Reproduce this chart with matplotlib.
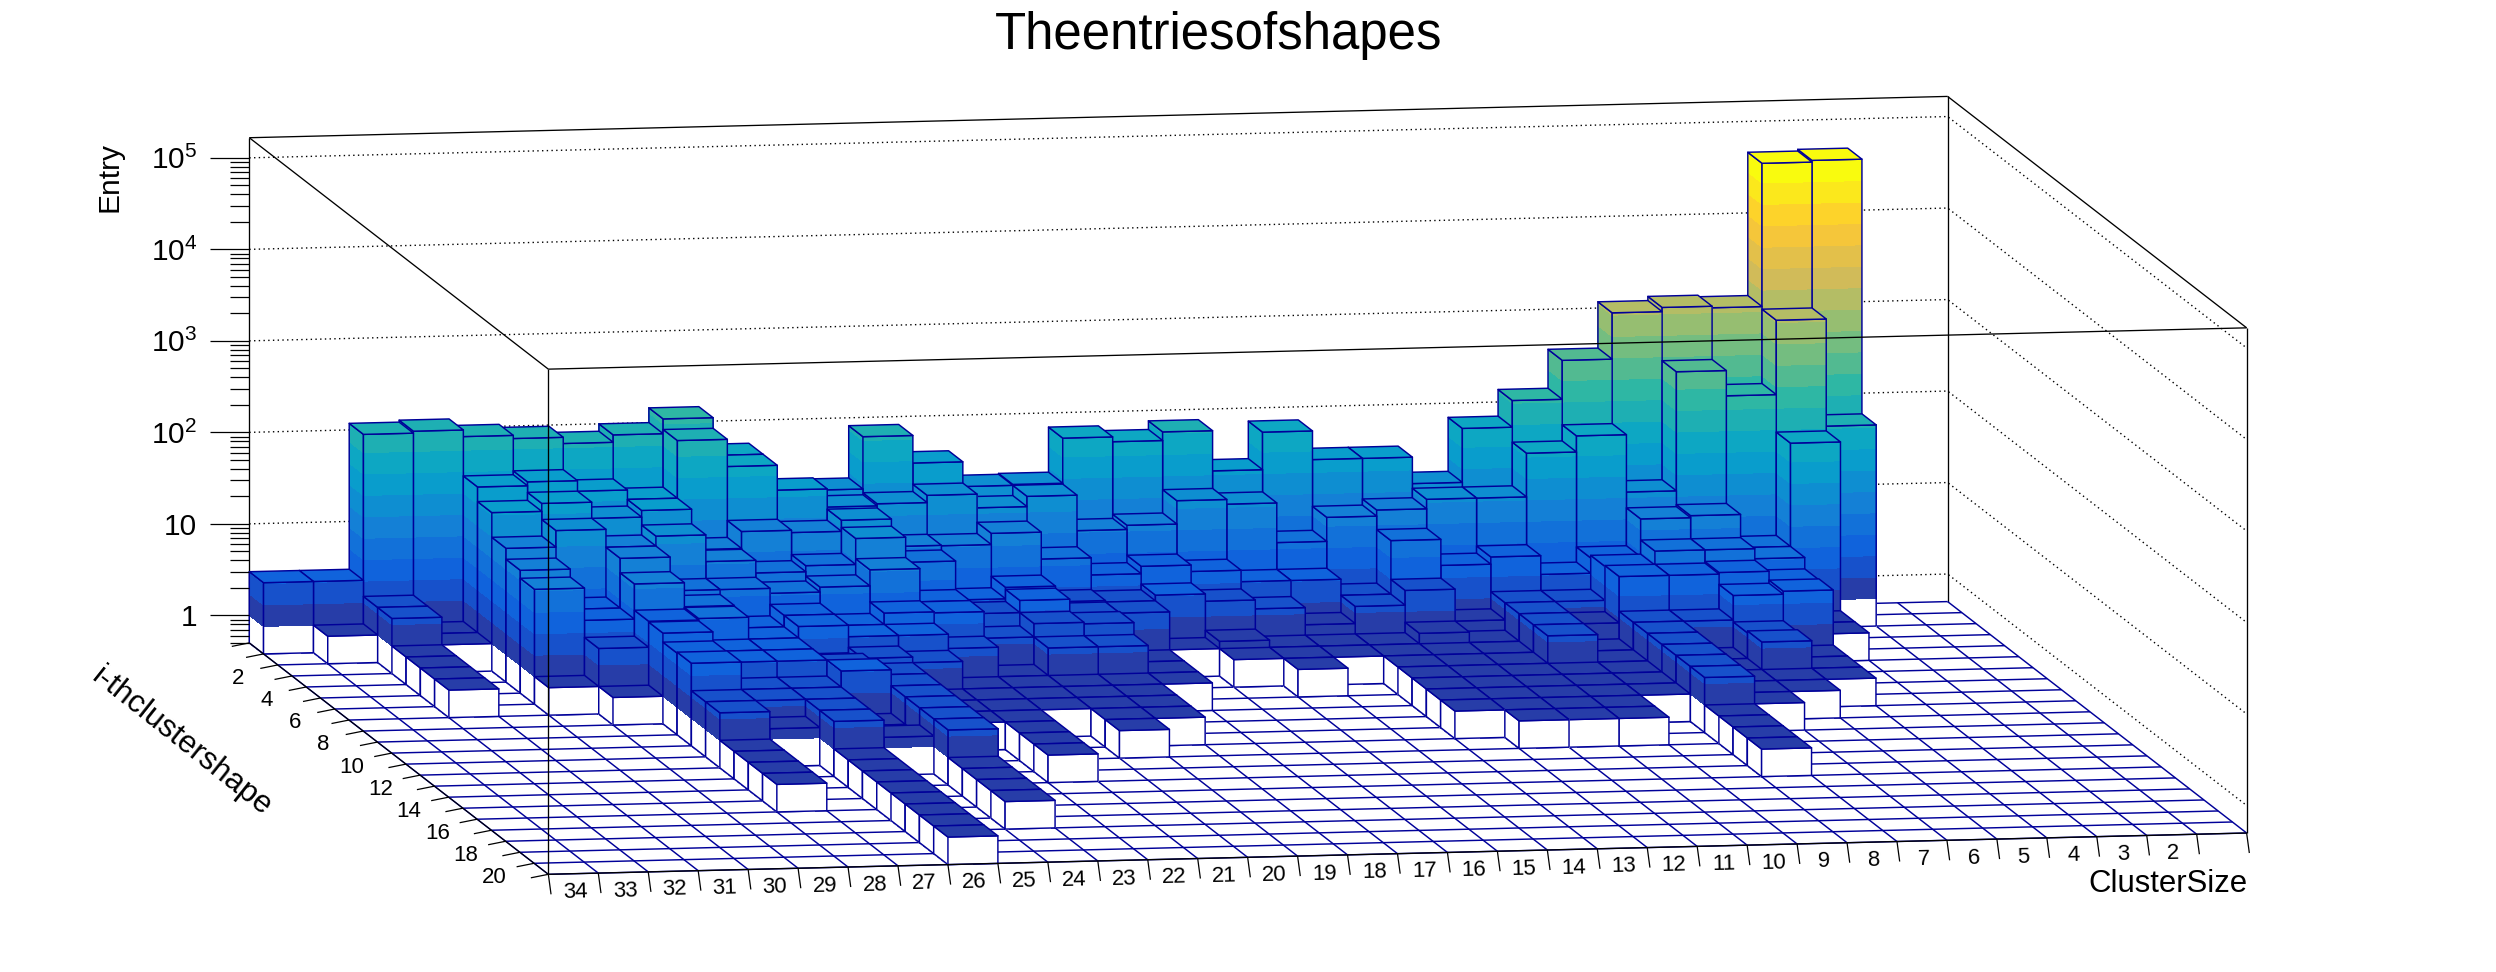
"""
Lego plot of the shape entries: ClusterSize against i-th cluster shape.
Oblique projection on a plain 2D axes, faces painted from back to front.
"""

import numpy as np
import matplotlib
matplotlib.use('Agg')
import matplotlib.pyplot as plt
from matplotlib.collections import PolyCollection
from matplotlib.colors import LinearSegmentedColormap

plt.rcParams['font.family'] = ['Liberation Sans', 'DejaVu Sans']
plt.rcParams['mathtext.fontset'] = 'custom'
plt.rcParams['mathtext.rm'] = 'Liberation Sans'
plt.rcParams['mathtext.default'] = 'regular'

# ─── DATA ─────────────────────────────────────────────────────────────────────
cluster_sizes = list(range(34, 0, -1))
shape_labels = list(range(2, 21, 2))
n_shapes = 21

# entries per cluster size, listed from shape 0 upwards; missing shapes are empty
size_34 = [3]
size_33 = [3, 1]
size_32 = [118, 2, 2, 1, 1, 1, 1]
size_31 = [124, 1, 1]
size_30 = [105, 39, 27, 14.5, 11, 9, 1]
size_29 = [97, 43, 33, 22, 4, 4, 2.6, 1]
size_28 = [83, 33, 22, 14, 14, 9.7, 5, 4.9, 3.9, 4, 2, 2, 1, 1, 1, 1]
size_27 = [100, 26, 26, 18, 6, 5.3, 5.2, 3, 3, 2, 2, 1.3]
size_26 = [145, 111, 9.4, 9.2, 6, 3, 3, 3, 3, 2, 2, 2, 2, 1, 1, 1, 1, 1, 1, 1, 1]
size_25 = [56, 56, 14.4, 6.7, 5.3, 4, 4, 2, 2.6, 3, 1, 1, 1.3]
size_24 = [20, 30, 13.6, 7.8, 6, 3, 3, 2.3, 2, 2, 2, 2, 2, 2, 1, 1, 1, 1]
size_23 = [22, 19, 18, 15, 9, 4, 3, 2, 1, 1, 1]
size_22 = [82, 20, 9, 8, 3.9, 3.9, 2.1, 1, 1, 1, 1, 1, 1, 1]
size_21 = [41, 24, 8.9, 3, 2.8, 2, 1, 1, 1, 1]
size_20 = [22, 17, 11.8, 4, 3.8, 2.8, 2, 1, 1, 1, 1, 1]
size_19 = [22.5, 22, 6, 2.7, 2.6, 2.7, 2, 1, 1, 1, 1]
size_18 = [70, 9, 3.9, 2.6, 2.6, 1, 1, 1]
size_17 = [62, 10, 4.7, 3, 1]
size_16 = [77, 18, 4, 2.5, 1.2, 1]
size_15 = [28, 16, 3, 2, 1, 1, 1]
size_14 = [72, 5.9, 3, 1.3, 1, 1]
size_13 = [35, 10.8, 2, 2, 1, 1, 1, 1, 1, 1, 1]
size_12 = [35, 12.6, 7.7, 2.9, 1.3, 1, 1, 1, 1, 1, 1, 1]
size_11 = [18, 16, 4, 1.3, 1, 1, 1, 1, 1, 1, 1, 1]
size_10 = [70, 16, 4.8, 2, 2, 2, 2, 1, 1, 1, 1, 1]
size_9 = [137, 48, 3, 2, 1.5, 1, 1, 1, 1, 1]
size_8 = [365, 72, 4.4, 4.7, 4.8, 2, 2, 2, 2, 2, 2, 1, 1, 1, 1]
size_7 = [1170, 17, 11.4, 6.7, 4.8, 2, 1, 1, 1, 1, 1]
size_6 = [1300, 340, 12, 6.7, 5, 3.7, 1.9, 2, 1, 1]
size_5 = [1250, 180, 5.2, 5.2, 3.9, 4, 1, 1, 1]
size_4 = [46000, 1170, 70, 1, 1]
size_3 = [48000, 79]
size_2 = []
size_1 = []

entries = [size_34, size_33, size_32, size_31, size_30, size_29, size_28, size_27,
           size_26, size_25, size_24, size_23, size_22, size_21, size_20, size_19,
           size_18, size_17, size_16, size_15, size_14, size_13, size_12, size_11,
           size_10, size_9, size_8, size_7, size_6, size_5, size_4, size_3,
           size_2, size_1]

z_decades = [0, 1, 2, 3, 4, 5]
z_decade_labels = ['1', '10', '$10^{2}$', '$10^{3}$', '$10^{4}$', '$10^{5}$']

# ─── GEOMETRY ─────────────────────────────────────────────────────────────────
W, H = 2496, 972
X0, Y0 = 249.3, 642.9            # back left floor corner, pixels
DUX, DUY = 49.95, -1.215         # one ClusterSize bin along the front edge
DVX, DVY = 14.24, 11.02          # one shape bin towards the viewer
DECADE = 91.5
LOG_ZMIN, LOG_ZMAX = np.log10(0.5), 5.22
N_LEVELS = 20

NAVY = (0.0, 0.0, 0.6, 1.0)
NONE = (0.0, 0.0, 0.0, 0.0)
WHITE = (1.0, 1.0, 1.0, 1.0)

# ROOT kBird palette
bird_r = [0.2082, 0.0592, 0.0780, 0.0232, 0.1802, 0.5301, 0.8186, 0.9956, 0.9764]
bird_g = [0.1664, 0.3599, 0.5041, 0.6419, 0.7178, 0.7492, 0.7328, 0.7862, 0.9832]
bird_b = [0.5293, 0.8684, 0.8385, 0.7914, 0.6425, 0.4662, 0.3499, 0.1968, 0.0539]
bird = LinearSegmentedColormap.from_list('bird', list(zip(bird_r, bird_g, bird_b)), N=255)
level_colors = [bird((i + 0.99) / N_LEVELS) for i in range(N_LEVELS)]


def project(u, v, logz):
    return (X0 + u * DUX + v * DVX,
            Y0 + u * DUY + v * DVY - (logz - LOG_ZMIN) * DECADE)


def level_faces(a, b, logz, step, polys, faces, edges, smooth):
    """Fill the wall between floor points a, b up to logz in palette bands."""
    low = LOG_ZMIN
    bounds = [LOG_ZMIN] + [i * step for i in range(N_LEVELS + 1)]
    for i in range(len(bounds) - 1):
        lo, hi = bounds[i], min(bounds[i + 1], logz)
        if hi <= lo:
            break
        polys.append([project(*a, lo), project(*b, lo), project(*b, hi), project(*a, hi)])
        faces.append(WHITE if i == 0 else level_colors[i - 1])
        edges.append(NONE)
        smooth.append(False)    # no seams between the bands
    polys.append([project(*a, low), project(*b, low), project(*b, logz), project(*a, logz)])
    faces.append(NONE)
    edges.append(NAVY)
    smooth.append(True)


def run():
    fig = plt.figure(figsize=(W / 100, H / 100), dpi=100)
    ax = fig.add_axes([0, 0, 1, 1])
    ax.set_xlim(0, W)
    ax.set_ylim(H, 0)
    ax.axis('off')

    n_sizes = len(cluster_sizes)

    def line(p, q, **kw):
        ax.plot([p[0], q[0]], [p[1], q[1]], solid_capstyle='butt', **kw)

    # ── walls and floor ───────────────────────────────────────────────────────
    for d in z_decades:
        a, b, c = project(0, 0, d), project(n_sizes, 0, d), project(n_sizes, n_shapes, d)
        ax.plot([a[0], b[0], c[0]], [a[1], b[1], c[1]], color='k', lw=1.0,
                ls=(0, (1, 2.4)), zorder=1)

    black = dict(color='k', lw=0.95, zorder=1.5)
    line(project(0, 0, LOG_ZMIN), project(0, 0, LOG_ZMAX), **black)
    line(project(n_sizes, 0, LOG_ZMIN), project(n_sizes, 0, LOG_ZMAX), **black)
    line(project(0, 0, LOG_ZMAX), project(n_sizes, 0, LOG_ZMAX), **black)
    line(project(0, 0, LOG_ZMAX), project(0, n_shapes, LOG_ZMAX), **black)
    line(project(n_sizes, 0, LOG_ZMAX), project(n_sizes, n_shapes, LOG_ZMAX), **black)

    floor = dict(color=NAVY, lw=1.05, zorder=1.6)
    for u in range(n_sizes + 1):
        line(project(u, 0, LOG_ZMIN), project(u, n_shapes, LOG_ZMIN), **floor)
    for v in range(n_shapes + 1):
        line(project(0, v, LOG_ZMIN), project(n_sizes, v, LOG_ZMIN), **floor)

    # ── bars, from the far row to the near row, right to left ─────────────────
    step = np.log10(max(max(c) for c in entries if c)) / N_LEVELS
    polys, faces, edges, smooth = [], [], [], []
    for v in range(1, n_shapes + 1):
        for u in range(n_sizes - 1, -1, -1):
            column = entries[u]
            if v > len(column):
                continue
            logz = np.log10(column[v - 1])
            level_faces((u, v - 1), (u, v), logz, step, polys, faces, edges, smooth)
            level_faces((u, v), (u + 1, v), logz, step, polys, faces, edges, smooth)
            top = int(np.clip(np.floor(logz / step), 0, N_LEVELS - 1))
            polys.append([project(u, v, logz), project(u + 1, v, logz),
                          project(u + 1, v - 1, logz), project(u, v - 1, logz)])
            faces.append(level_colors[top])
            edges.append(NAVY)
            smooth.append(True)

    bars = PolyCollection(polys, facecolors=faces, edgecolors=edges,
                          linewidths=1.05, antialiaseds=smooth, zorder=2)
    ax.add_collection(bars)

    # ── front frame, drawn over the bars ──────────────────────────────────────
    black = dict(color='k', lw=0.95, zorder=3)
    line(project(0, n_shapes, LOG_ZMIN), project(0, n_shapes, LOG_ZMAX), **black)
    line(project(n_sizes, n_shapes, LOG_ZMIN), project(n_sizes, n_shapes, LOG_ZMAX), **black)
    line(project(0, n_shapes, LOG_ZMAX), project(n_sizes, n_shapes, LOG_ZMAX), **black)
    line(project(0, n_shapes, LOG_ZMIN), project(n_sizes, n_shapes, LOG_ZMIN), **black)
    line(project(0, 0, LOG_ZMIN), project(0, n_shapes, LOG_ZMIN), color='k', lw=0.8, zorder=3)

    # ── axes ──────────────────────────────────────────────────────────────────
    tick = dict(color='k', lw=0.9, zorder=3)
    for d, label in zip(z_decades, z_decade_labels):
        x, y = project(0, 0, d)
        line((x, y), (x - 39, y), **tick)
        ax.text(x - 52, y + 3, label, ha='right', va='center', fontsize=21.5, color='k')
    for d in z_decades[:-1] + [-1]:
        for m in range(2, 10):
            logz = d + np.log10(m)
            if LOG_ZMIN <= logz <= LOG_ZMAX:
                x, y = project(0, 0, logz)
                line((x, y), (x - 19, y), **tick)

    for u in range(n_sizes + 1):
        x, y = project(u, n_shapes, LOG_ZMIN)
        line((x, y), (x + 2.7, y + 20), **tick)
    for u, size in enumerate(cluster_sizes[:-1]):
        x, y = project(u + 0.5, n_shapes, LOG_ZMIN)
        ax.text(x + 1.6, y + 18.4, str(size), ha='center', va='center', fontsize=16,
                rotation=1.4, rotation_mode='anchor')

    for v in range(n_shapes + 1):
        x, y = project(0, v, LOG_ZMIN)
        line((x, y), (x - 17.5, y + 3.5), **tick)
    for k in shape_labels:
        x, y = project(0, k + 0.5, LOG_ZMIN)
        ax.text(x - 47, y + 8.4, str(k), ha='center', va='center', fontsize=16)

    ax.text(1219, 35, 'Theentriesofshapes', ha='center', va='center', fontsize=36.7)
    ax.text(109, 142, 'Entry', rotation=90, ha='center', va='top', fontsize=21.5)
    ax.text(2248, 891.7, 'ClusterSize', ha='right', va='baseline', fontsize=22.4)
    ax.text(182, 742, 'i-thclustershape', rotation=-38.5, rotation_mode='anchor',
            ha='center', va='center', fontsize=22.5)

    fig.savefig('out.png', dpi=100)


if __name__ == "__main__":
    run()
